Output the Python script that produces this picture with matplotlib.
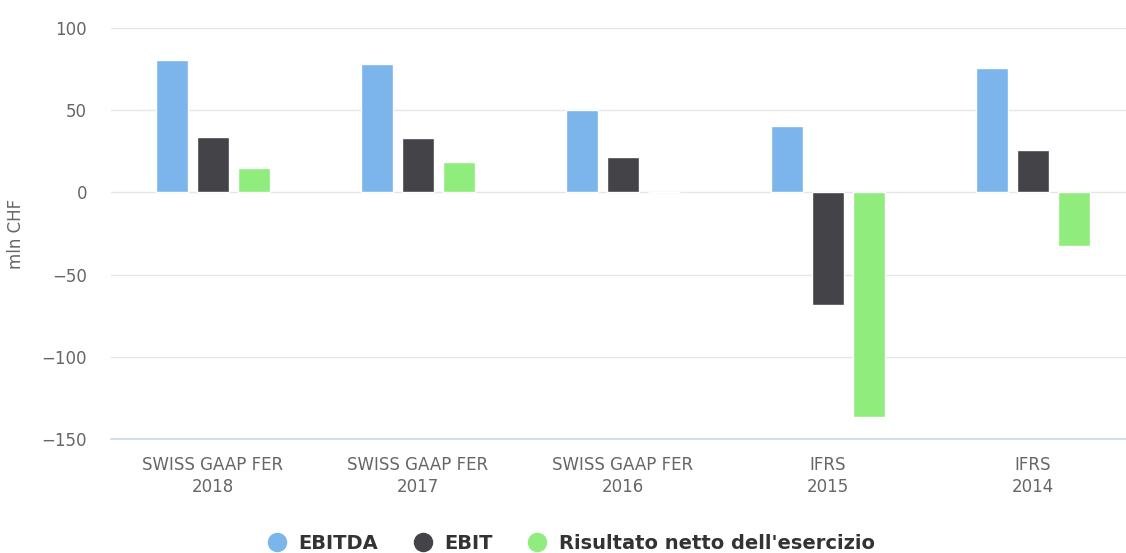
import matplotlib
matplotlib.use("Agg")
import matplotlib.pyplot as plt
import numpy as np
from matplotlib.lines import Line2D

plt.rcParams["font.family"] = ["DejaVu Sans"]

categories = ["SWISS GAAP FER\n2018", "SWISS GAAP FER\n2017", "SWISS GAAP FER\n2016", "IFRS\n2015", "IFRS\n2014"]
series_names = ["EBITDA", "EBIT", "Risultato netto dell'esercizio"]
ebitda = [80.8, 77.8, 50.4, 40.1, 75.9]
ebit = [34.0, 32.8, 21.3, -68.7, 25.5]
netto = [14.6, 18.2, 0.3, -136.7, -32.8]
colors = ["#7cb5ec", "#434348", "#90ed7d"]
yticks = [-150, -100, -50, 0, 50, 100]

fig = plt.figure(figsize=(11.26, 5.53), dpi=100)
ax = fig.add_axes([110.5/1126, 1-439/553, 1025/1126, (439-28)/553])

x = np.arange(len(categories))
width = 0.156
offsets = [-0.2, 0.0, 0.2]
for vals, off, col, name in zip([ebitda, ebit, netto], offsets, colors, series_names):
    ax.bar(x + off, vals, width=width, color=col, edgecolor="white", linewidth=1, zorder=3, label=name)

ax.set_xlim(-0.5, len(categories) - 0.5)
ax.set_ylim(-150, 100)
ax.set_yticks(yticks)
ax.yaxis.grid(True, color="#e6e6e6", linewidth=1, zorder=0)
ax.set_axisbelow(True)
for s in ["top", "right", "left"]:
    ax.spines[s].set_visible(False)
ax.spines["bottom"].set_color("#ccd6eb")
ax.spines["bottom"].set_linewidth(1.2)
ax.set_xticks(x)
ax.set_xticklabels(categories, fontsize=12, color="#666666", linespacing=1.3)
ax.tick_params(axis="x", length=0, pad=12)
ax.tick_params(axis="y", length=0, pad=17, labelsize=12, labelcolor="#666666")
ax.set_ylabel("mln CHF", fontsize=12, color="#666666", labelpad=12)

handles = [Line2D([0], [0], marker="o", linestyle="none", markersize=13, markerfacecolor=c, markeredgecolor=c) for c in colors]
leg = fig.legend(handles, series_names, loc="center", bbox_to_anchor=(0.507, 0.018), ncol=3, frameon=False,
                 prop={"weight": "bold", "size": 14}, handletextpad=0.6, columnspacing=1.8, handlelength=1.0)
for t in leg.get_texts():
    t.set_color("#333333")

fig.savefig("out.png", dpi=100, facecolor="white")
